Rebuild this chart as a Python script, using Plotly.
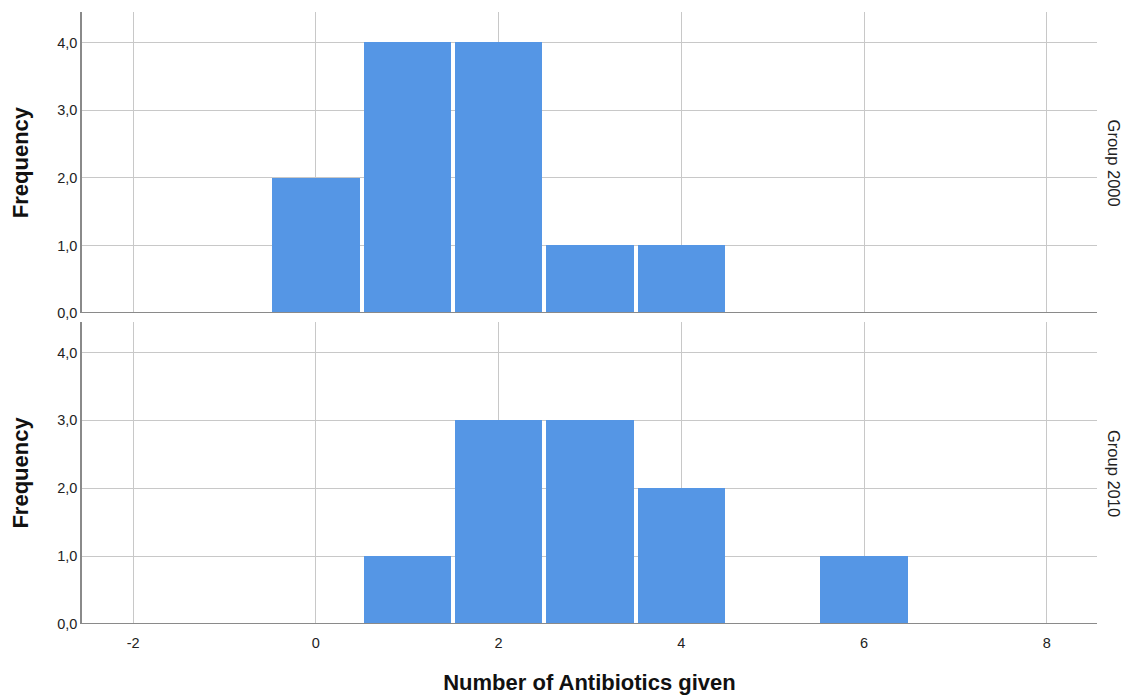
import plotly.graph_objects as go
from plotly.subplots import make_subplots

# Number of antibiotics given (bin centres) and frequencies per group
antibiotics = [0, 1, 2, 3, 4, 5, 6]
freq_2000 = [2, 4, 4, 1, 1, 0, 0]
freq_2010 = [0, 1, 3, 3, 2, 0, 1]
groups = ["Group 2000", "Group 2010"]

x_ticks = [-2, 0, 2, 4, 6, 8]
x_ticktext = ["-2", "0", "2", "4", "6", "8"]
y_ticks = [0, 1, 2, 3, 4]
y_ticktext = ["0,0", "1,0", "2,0", "3,0", "4,0"]

BAR = "#5596E5"
GRID = "#C8C8C8"
AXIS = "#8A8A8A"
FONT = "Liberation Sans, Arial, sans-serif"

fig = make_subplots(rows=2, cols=1, shared_xaxes=False, vertical_spacing=0.0)

for row, freqs in enumerate([freq_2000, freq_2010], start=1):
    xs = [a for a, f in zip(antibiotics, freqs) if f > 0]
    ys = [f for f in freqs if f > 0]
    fig.add_trace(
        go.Bar(
            x=xs, y=ys, width=0.955,
            marker=dict(color=BAR, line=dict(width=0)),
            showlegend=False, hoverinfo="x+y",
        ),
        row=row, col=1,
    )

top_dom = [0.508, 1.0]
bot_dom = [0.0, 0.4935]

common_x = dict(
    range=[-2.56, 8.55], tickvals=x_ticks, ticktext=x_ticktext, showgrid=True,
    gridcolor=GRID, gridwidth=1, zeroline=False, showline=False, ticks="",
    ticklabelstandoff=8, automargin=False,
    tickfont=dict(family=FONT, size=14.5, color="#222"),
)
common_y = dict(
    range=[0, 4.45], tickvals=y_ticks, ticktext=y_ticktext, showgrid=True,
    gridcolor=GRID, gridwidth=1, zeroline=False, showline=True, linecolor=AXIS,
    linewidth=1.5, ticks="", ticklen=0, automargin=False,
    tickfont=dict(family=FONT, size=14.5, color="#222"),
    title=dict(text="<b>Frequency</b>", font=dict(family=FONT, size=22, color="#111"), standoff=22),
)

fig.update_layout(
    xaxis=dict(common_x, showticklabels=False, anchor="y"),
    xaxis2=dict(common_x, showticklabels=True, anchor="y2",
                title=dict(text="<b>Number of Antibiotics given</b>",
                           font=dict(family=FONT, size=22, color="#111"), standoff=25)),
    yaxis=dict(common_y, domain=top_dom, anchor="x"),
    yaxis2=dict(common_y, domain=bot_dom, anchor="x2"),
)

# Baseline of each panel
for xref, yref in [("x", "y"), ("x2", "y2")]:
    fig.add_shape(type="line", xref=f"{xref} domain", yref=yref, x0=0, x1=1, y0=0, y1=0,
                  line=dict(color=AXIS, width=2), layer="above")

# Panel labels on the right
for label, dom in zip(groups, [top_dom, bot_dom]):
    fig.add_annotation(
        text=label, xref="paper", yref="paper", x=1.0, y=(dom[0] + dom[1]) / 2,
        xanchor="center", yanchor="middle", xshift=17, showarrow=False, textangle=90,
        font=dict(family=FONT, size=16.5, color="#222"),
    )

fig.update_layout(
    width=1131, height=698,
    margin=dict(l=82, r=34, t=12, b=74),
    paper_bgcolor="white", plot_bgcolor="white",
    bargap=0,
    font=dict(family=FONT),
)

fig.write_html("out.html")
